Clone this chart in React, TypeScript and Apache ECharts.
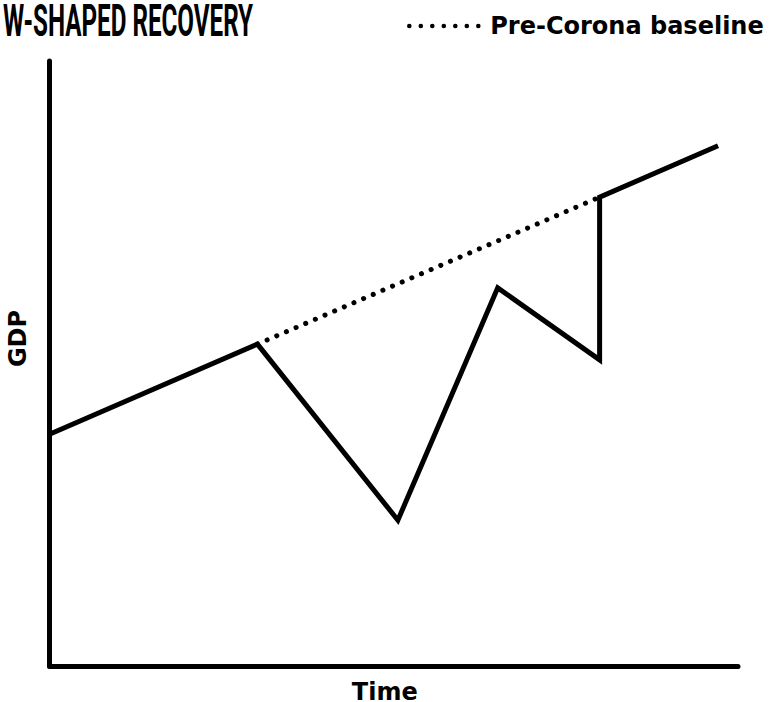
import React, { useEffect, useRef } from "react";
import * as echarts from "echarts";

const titleText = "W-SHAPED RECOVERY";
const legendLabel = "Pre-Corona baseline";
const xAxisName = "Time";
const yAxisName = "GDP";

// Time (0-100) vs GDP (0-100)
const actualTime = [0, 30.2, 50.6, 65.1, 79.9, 79.9, 97.1];
const actualGdp = [38.3, 53.2, 24.1, 62.5, 50.6, 77.5, 86.0];
const baselineTime = [30.2, 79.9];
const baselineGdp = [53.2, 77.5];

const labelFont = "'DejaVu Sans'";

export default function App() {
  const ref = useRef<HTMLDivElement>(null);
  useEffect(() => {
    if (!ref.current) return;
    const chart = echarts.init(ref.current, null, { renderer: "svg" });
    const actual = actualTime.map((t, i) => [t, actualGdp[i]]);
    const baseline = baselineTime.map((t, i) => [t, baselineGdp[i]]);
    chart.setOption({
      animation: false,
      backgroundColor: "#ffffff",
      grid: {
        left: 49.5,
        right: 35,
        top: 61,
        bottom: 36,
        containLabel: false,
        outerBoundsMode: "none",
      },
      legend: {
        data: [legendLabel],
        left: 407,
        top: 14,
        padding: 0,
        itemWidth: 76,
        itemHeight: 20,
        itemStyle: { opacity: 0 },
        lineStyle: {
          color: "#000",
          width: 4.5,
          type: [0.1, 11.4],
          cap: "round",
        },
        textStyle: {
          fontFamily: labelFont,
          fontWeight: "bold",
          fontSize: 24,
          color: "#000",
        },
      },
      graphic: [
        {
          type: "text",
          x: 3,
          y: 21,
          scaleX: 0.55,
          style: {
            text: titleText,
            fontFamily: "Roboto",
            fontWeight: "bold",
            fontSize: 44,
            lineHeight: 38,
            fill: "#000",
            align: "left",
            verticalAlign: "middle",
          },
        },
      ],
      xAxis: {
        type: "value",
        min: 0,
        max: 100,
        name: xAxisName,
        nameLocation: "middle",
        nameGap: 17,
        nameTextStyle: {
          fontFamily: labelFont,
          fontWeight: "bold",
          fontSize: 24,
          lineHeight: 18,
          color: "#000",
          padding: [0, 18, 0, 0],
        },
        axisLine: { show: true, lineStyle: { color: "#000", width: 5 } },
        axisTick: { show: false },
        axisLabel: { show: false },
        splitLine: { show: false },
      },
      yAxis: {
        type: "value",
        min: 0,
        max: 100,
        name: yAxisName,
        nameLocation: "middle",
        nameGap: 20,
        nameTextStyle: {
          fontFamily: labelFont,
          fontWeight: "bold",
          fontSize: 24,
          color: "#000",
          padding: [0, 0, 0, 50],
        },
        axisLine: { show: true, lineStyle: { color: "#000", width: 5 } },
        axisTick: { show: false },
        axisLabel: { show: false },
        splitLine: { show: false },
      },
      series: [
        {
          name: "GDP",
          type: "line",
          data: actual,
          showSymbol: false,
          symbol: "none",
          lineStyle: { color: "#000", width: 5, join: "miter", cap: "butt" },
          z: 3,
        },
        {
          name: legendLabel,
          type: "line",
          data: baseline,
          showSymbol: false,
          symbol: "none",
          itemStyle: { color: "#000" },
          lineStyle: {
            color: "#000",
            width: 5,
            type: [0.1, 10.4],
            cap: "round",
          },
          z: 2,
        },
      ],
    });
    return () => chart.dispose();
  }, []);
  return (
    <div
      ref={ref}
      style={{ position: "fixed", left: 0, top: 0, width: 773, height: 702 }}
    />
  );
}
